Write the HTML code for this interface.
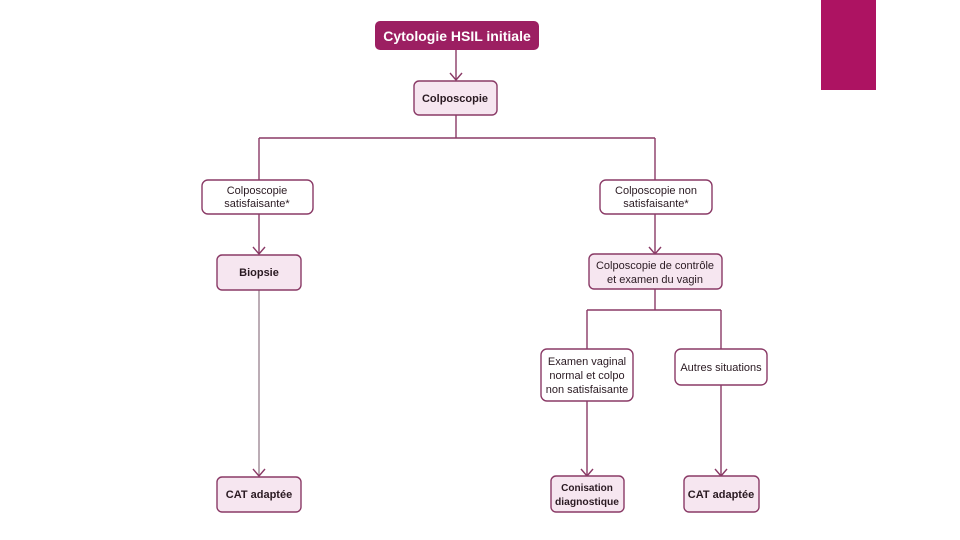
<!DOCTYPE html>
<html><head><meta charset="utf-8"><style>
html,body{margin:0;padding:0;background:#fff;}
svg{display:block;}
text{font-family:"Liberation Sans",sans-serif;fill:#2a1a22;}
</style></head><body>
<svg width="960" height="540" viewBox="0 0 960 540" xmlns="http://www.w3.org/2000/svg">
<rect x="821" y="0" width="55" height="90" fill="#ad1362"/>
<g stroke="#8a3a66" stroke-width="1.4" fill="none">
  <path d="M456 50 V80"/><path d="M450 73 L456 80 L462 73"/>
  <path d="M456 115 V138 M259 138 H655 M259 138 V180 M655 138 V180"/>
  <path d="M259 214 V254"/><path d="M253 247 L259 254 L265 247"/>
  <path d="M655 214 V254"/><path d="M649 247 L655 254 L661 247"/>
  <path d="M259 290 V476" stroke="#a08a96"/><path d="M253 469 L259 476 L265 469"/>
  <path d="M655 289 V310 M587 310 H721 M587 310 V349 M721 310 V349"/>
  <path d="M587 401 V476"/><path d="M581 469 L587 476 L593 469"/>
  <path d="M721 385 V476"/><path d="M715 469 L721 476 L727 469"/>
</g>
<rect x="375" y="21" width="164" height="29" rx="5" fill="#9c1f62"/>
<text x="457" y="41" text-anchor="middle" font-size="14" font-weight="bold" style="fill:#fff">Cytologie HSIL initiale</text>
<g stroke="#8a3a66" stroke-width="1.4">
  <rect x="414" y="81" width="83" height="34" rx="5" fill="#f6e6f0"/>
  <rect x="202" y="180" width="111" height="34" rx="6" fill="#fff"/>
  <rect x="600" y="180" width="112" height="34" rx="6" fill="#fff"/>
  <rect x="217" y="255" width="84" height="35" rx="5" fill="#f6e6f0"/>
  <rect x="589" y="254" width="133" height="35" rx="5" fill="#f6e6f0"/>
  <rect x="541" y="349" width="92" height="52" rx="6" fill="#fff"/>
  <rect x="675" y="349" width="92" height="36" rx="6" fill="#fff"/>
  <rect x="217" y="477" width="84" height="35" rx="5" fill="#f6e6f0"/>
  <rect x="551" y="476" width="73" height="36" rx="5" fill="#f6e6f0"/>
  <rect x="684" y="476" width="75" height="36" rx="5" fill="#f6e6f0"/>
</g>
<g font-size="11" text-anchor="middle">
  <text x="455" y="102" font-weight="bold">Colposcopie</text>
  <text x="257" y="194">Colposcopie</text>
  <text x="257" y="207">satisfaisante*</text>
  <text x="656" y="194">Colposcopie non</text>
  <text x="656" y="207">satisfaisante*</text>
  <text x="259" y="276" font-weight="bold">Biopsie</text>
  <text x="655" y="269">Colposcopie de contrôle</text>
  <text x="655" y="283">et examen du vagin</text>
  <text x="587" y="365">Examen vaginal</text>
  <text x="587" y="379">normal et colpo</text>
  <text x="587" y="393">non satisfaisante</text>
  <text x="721" y="371">Autres situations</text>
  <text x="259" y="498" font-weight="bold">CAT adaptée</text>
  <text x="587" y="491" font-weight="bold" font-size="10">Conisation</text>
  <text x="587" y="505" font-weight="bold" font-size="10" textLength="64" lengthAdjust="spacingAndGlyphs">diagnostique</text>
  <text x="721" y="498" font-weight="bold">CAT adaptée</text>
</g>
</svg>
</body></html>
